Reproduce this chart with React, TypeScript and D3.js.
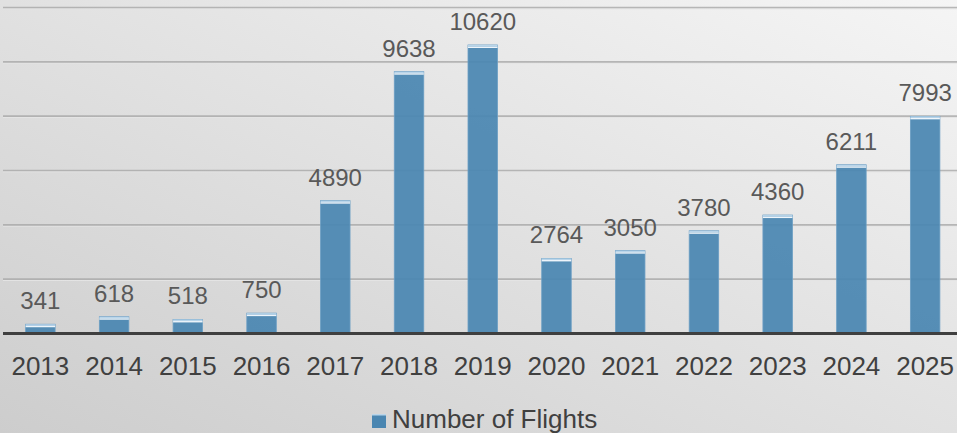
import React from "react";
import * as d3 from "d3";

const years = ["2013","2014","2015","2016","2017","2018","2019","2020","2021","2022","2023","2024","2025"];
const flights = [341, 618, 518, 750, 4890, 9638, 10620, 2764, 3050, 3780, 4360, 6211, 7993];
const yTicks = [0, 2000, 4000, 6000, 8000, 10000, 12000];
const seriesName = "Number of Flights";

const W = 957;
const H = 433;

export default function App() {
  const x = d3.scaleBand<string>().domain(years).range([3.5, 962]).paddingInner(0.6).paddingOuter(0.3);
  const y = d3.scaleLinear().domain([0, 12000]).range([333.5, 7.5]);
  const font = "'Liberation Sans', Arial, sans-serif";
  const textColor = "#595959";
  const barColor = "#4a86b1";

  return (
    <svg width={W} height={H} style={{ position: "absolute", left: 0, top: 0, display: "block" }}>
      <defs>
        <linearGradient id="bg" x1="0" y1="1" x2="1" y2="0">
          <stop offset="0" stopColor="#cdcdcd" />
          <stop offset="1" stopColor="#f5f5f5" />
        </linearGradient>
      </defs>
      <rect x={0} y={0} width={W} height={H} fill="url(#bg)" />
      {yTicks.slice(1).map((t) => (
        <g key={t}>
          <line x1={3} x2={W} y1={y(t) + 1.3} y2={y(t) + 1.3} stroke="#e4e4e4" strokeWidth={1} />
          <line x1={3} x2={W} y1={y(t)} y2={y(t)} stroke="#a8a8a8" strokeOpacity={0.8} strokeWidth={1.6} />
        </g>
      ))}
      {years.map((yr, i) => {
        const v = flights[i];
        const bx = x(yr) as number;
        const bw = x.bandwidth();
        const top = y(v);
        const h = y(0) - top;
        return (
          <g key={yr}>
            <rect x={bx} y={top} width={bw} height={h} fill={barColor} fillOpacity={0.93} stroke="#6b9ec4" strokeWidth={0.8} />
            <rect x={bx} y={top} width={bw} height={1.6} fill="#b9d5ea" />
            <rect x={bx} y={top + 1.6} width={bw} height={1.4} fill="#eef5fb" />
            <text x={bx + bw / 2} y={top - 15} textAnchor="middle" fontFamily={font} fontSize={24} fill={textColor}>
              {v}
            </text>
            <text x={bx + bw / 2} y={375} textAnchor="middle" fontFamily={font} fontSize={26} fill="#404040">
              {yr}
            </text>
          </g>
        );
      })}
      <line x1={3} x2={W} y1={y(0)} y2={y(0)} stroke="#3f3f3f" strokeWidth={3} />
      <g>
        <rect x={372} y={414} width={14} height={14} fill={barColor} />
        <rect x={372} y={414} width={14} height={1.5} fill="#b9d5ea" />
        <text x={392} y={428} fontFamily={font} fontSize={26} fill="#404040">
          {seriesName}
        </text>
      </g>
    </svg>
  );
}
